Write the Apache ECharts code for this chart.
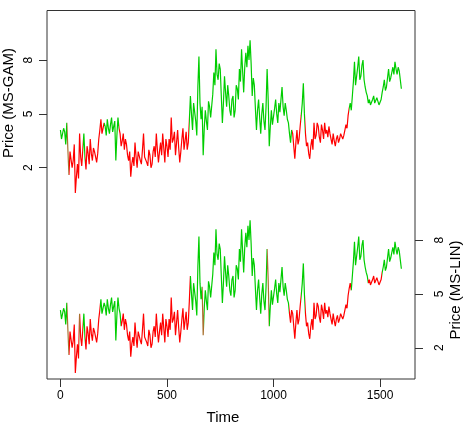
<!DOCTYPE html>
<html>
<head>
<meta charset="utf-8">
<script src="https://cdn.jsdelivr.net/npm/echarts@6/dist/echarts.min.js"></script>
<style>
  html, body { margin: 0; padding: 0; background: #fff; }
  #chart { width: 469px; height: 422px; }
</style>
</head>
<body>
<div id="chart"></div>
<script>
// price, one value every 5 time steps (same series drawn twice)
const timeStep = 5;
const price = [
  4.1, 3.6, 3.7, 4.2, 4.0, 3.3, 4.5, 3.0, 1.6, 2.9,   // 0 - 45
  3.0, 2.0, 2.4, 3.3, 0.6, 1.5, 2.2, 1.4, 3.9, 2.6,   // 50 - 95
  2.1, 3.0, 3.9, 2.6, 1.9, 3.2, 2.8, 2.2, 3.6, 2.8,   // 100 - 145
  2.4, 3.1, 2.9, 2.6, 2.3, 2.8, 3.6, 4.1, 4.7, 3.9,   // 150 - 195
  3.8, 4.5, 4.3, 3.8, 4.7, 4.2, 3.9, 4.4, 4.8, 4.0,   // 200 - 245
  4.1, 4.6, 2.4, 3.8, 4.8, 4.2, 3.9, 3.2, 3.5, 3.9,   // 250 - 295
  3.0, 3.6, 3.3, 2.7, 2.4, 2.9, 1.5, 2.2, 2.6, 2.1,   // 300 - 345
  3.4, 2.6, 2.0, 2.9, 2.8, 2.4, 2.2, 3.0, 3.9, 2.6,   // 350 - 395
  2.7, 2.3, 2.1, 3.0, 2.7, 2.0, 2.2, 2.9, 3.2, 2.6,   // 400 - 445
  3.9, 3.0, 2.3, 2.9, 3.4, 2.7, 3.9, 3.1, 2.3, 3.6,   // 450 - 495
  3.2, 2.6, 3.6, 3.0, 4.8, 3.4, 3.6, 4.0, 2.7, 3.4,   // 500 - 545
  4.1, 3.1, 2.3, 2.9, 3.6, 4.2, 3.0, 3.5, 4.0, 3.0,   // 550 - 595
  3.4, 4.6, 6.0, 5.0, 4.1, 5.6, 5.1, 4.6, 3.8, 6.5,   // 600 - 645
  8.2, 5.6, 4.7, 5.4, 2.7, 4.2, 5.2, 4.6, 4.1, 5.7,   // 650 - 695
  5.4, 4.8, 4.7, 6.1, 7.3, 6.6, 8.6, 7.2, 6.9, 7.8,   // 700 - 745
  7.5, 6.0, 4.5, 5.6, 7.1, 6.2, 5.4, 6.6, 6.0, 5.2,   // 750 - 795
  4.9, 5.8, 6.0, 4.8, 5.2, 6.6, 6.4, 5.8, 7.5, 6.8,   // 800 - 845
  8.6, 7.4, 6.2, 7.6, 8.4, 7.6, 8.8, 8.0, 9.1, 7.8,   // 850 - 895
  6.0, 7.0, 6.6, 5.3, 4.1, 5.2, 5.8, 4.8, 3.9, 5.0,   // 900 - 945
  5.6, 4.6, 4.1, 5.4, 7.5, 5.8, 3.2, 4.3, 5.2, 4.4,   // 950 - 995
  4.5, 5.3, 5.8, 5.0, 4.5, 5.6, 5.1, 5.8, 6.5, 5.4,   // 1000 - 1045
  4.9, 5.6, 5.2, 4.7, 4.5, 3.9, 3.4, 4.1, 3.9, 3.2,   // 1050 - 1095
  2.5, 3.4, 4.1, 3.3, 3.6, 4.3, 4.9, 5.6, 6.7, 5.0,   // 1100 - 1145
  3.9, 3.2, 3.4, 2.8, 2.5, 3.2, 3.6, 3.0, 4.5, 3.6,   // 1150 - 1195
  3.8, 4.5, 4.3, 3.7, 3.4, 4.4, 4.1, 3.6, 4.5, 3.9,   // 1200 - 1245
  4.1, 3.7, 4.3, 3.9, 3.6, 3.3, 3.9, 3.5, 3.2, 3.6,   // 1250 - 1295
  3.8, 3.4, 3.6, 3.9, 4.0, 3.6, 3.8, 4.1, 4.4, 4.2,   // 1300 - 1345
  4.9, 5.3, 5.6, 5.2, 6.0, 6.8, 7.9, 6.6, 6.7, 7.6,   // 1350 - 1395
  8.2, 6.9, 7.1, 7.7, 8.0, 6.9, 6.5, 6.2, 6.0, 5.6,   // 1400 - 1445
  5.8, 5.5, 5.4, 5.8, 6.0, 5.6, 5.5, 5.9, 5.7, 5.5,   // 1450 - 1495
  5.4, 5.8, 6.2, 6.5, 6.9, 6.3, 6.5, 7.0, 7.5, 6.8,   // 1500 - 1545
  7.0, 7.3, 7.6, 7.2, 7.9, 7.5, 7.2, 7.6, 7.4, 6.9,   // 1550 - 1595
  6.4                                                 // 1600
];

// regime intervals [from, to, state]
const gamRegimes = [
  [0, 33, 'up'], [33, 40, 'mix'], [40, 108, 'down'], [108, 116, 'up'],
  [116, 205, 'down'], [205, 275, 'up'], [275, 604, 'down'], [604, 1085, 'up'],
  [1085, 1130, 'down'], [1130, 1150, 'up'], [1150, 1352, 'down'], [1352, 1700, 'up']
];
const linRegimes = [
  [0, 33, 'up'], [33, 40, 'mix'], [40, 86, 'down'], [86, 92, 'mix'],
  [92, 108, 'down'], [108, 116, 'up'], [116, 185, 'down'], [185, 286, 'up'],
  [286, 608, 'down'], [608, 665, 'up'], [665, 675, 'mix'], [675, 970, 'up'],
  [970, 980, 'mix'], [980, 1071, 'up'], [1071, 1128, 'down'], [1128, 1150, 'up'],
  [1150, 1365, 'down'], [1365, 1445, 'up'], [1445, 1508, 'down'], [1508, 1700, 'up']
];

const xTicks = [0, 500, 1000, 1500];
const yTicks = [2, 5, 8];

const stateColor = { up: '#00cd00', down: '#ff0000', mix: '#a8702e' };
const font = 'Liberation Sans, Arial, sans-serif';

const points = price.map((v, i) => [i * timeStep, v]);

function toPieces(regimes) {
  return regimes.map(r => ({ gte: r[0], lt: r[1], color: stateColor[r[2]] }));
}

function yAxis(min, max, side, margin) {
  return {
    type: 'value',
    position: side,
    min: min,
    max: max,
    axisLine: { show: false, onZero: false },
    splitLine: { show: false },
    axisTick: { show: true, length: 8, customValues: yTicks, lineStyle: { color: '#333' } },
    axisLabel: {
      customValues: yTicks, rotate: 90, margin: margin,
      color: '#000', fontSize: 12, fontFamily: font
    }
  };
}

const myChart = echarts.init(document.getElementById('chart'));

const option = {
  animation: false,
  grid: {
    left: 47, right: 54, top: 10.5, bottom: 43,
    show: true, borderColor: '#333', borderWidth: 1
  },
  xAxis: {
    type: 'value',
    min: -63,
    max: 1664,
    axisLine: { show: false, onZero: false },
    splitLine: { show: false },
    axisTick: { show: true, length: 8, customValues: xTicks, lineStyle: { color: '#333' } },
    axisLabel: {
      customValues: xTicks, margin: 11, color: '#000', fontSize: 12, fontFamily: font,
      formatter: v => String(v)
    }
  },
  yAxis: [
    yAxis(-9.77, 10.76, 'left', 12),
    yAxis(0.26, 20.79, 'right', 19)
  ],
  visualMap: [
    { show: false, type: 'piecewise', dimension: 0, seriesIndex: 0,
      pieces: toPieces(gamRegimes), outOfRange: { color: stateColor.up } },
    { show: false, type: 'piecewise', dimension: 0, seriesIndex: 1,
      pieces: toPieces(linRegimes), outOfRange: { color: stateColor.up } }
  ],
  series: [
    {
      name: 'MS-GAM', type: 'line', yAxisIndex: 0, data: points,
      showSymbol: false, lineStyle: { width: 1.2 }
    },
    {
      name: 'MS-LIN', type: 'line', yAxisIndex: 1, data: points,
      showSymbol: false, lineStyle: { width: 1.2 }
    }
  ],
  graphic: [
    { type: 'text', x: 9, y: 103, rotation: Math.PI / 2,
      style: { text: 'Price (MS-GAM)', fill: '#000', font: '15px ' + font, align: 'center', verticalAlign: 'middle' } },
    { type: 'text', x: 456, y: 290, rotation: Math.PI / 2,
      style: { text: 'Price (MS-LIN)', fill: '#000', font: '15px ' + font, align: 'center', verticalAlign: 'middle' } },
    { type: 'text', x: 223, y: 418,
      style: { text: 'Time', fill: '#000', font: '15px ' + font, align: 'center', verticalAlign: 'middle' } }
  ]
};

myChart.setOption(option);
</script>
</body>
</html>
